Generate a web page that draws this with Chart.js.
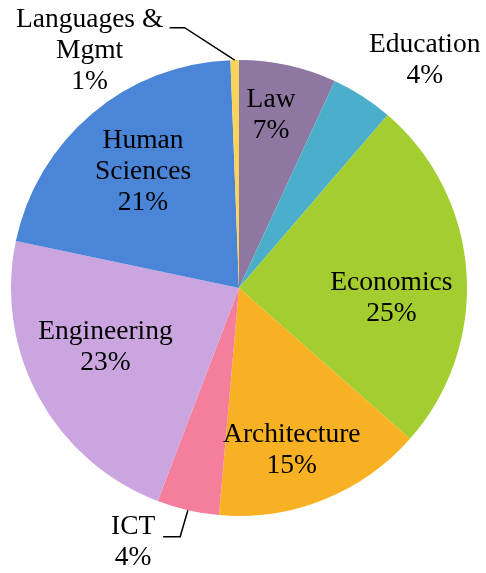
<!DOCTYPE html>
<html>
<head>
<meta charset="utf-8">
<script src="https://cdn.jsdelivr.net/npm/chart.js@4"></script>
<style>
html,body{margin:0;padding:0;background:#fff;}
#wrap{width:486px;height:573px;position:relative;}
</style>
</head>
<body>
<div id="wrap"><canvas id="c" width="486" height="573"></canvas></div>
<script>
// ---- data ----
const categories = ['Law', 'Education', 'Economics', 'Architecture', 'ICT', 'Engineering', 'Human Sciences', 'Languages & Mgmt'];
const labelLines = [['Law'], ['Education'], ['Economics'], ['Architecture'], ['ICT'], ['Engineering'], ['Human', 'Sciences'], ['Languages &', 'Mgmt']];
const shares = [6.9, 4.4, 25.2, 14.9, 4.4, 22.5, 21.1, 0.6];

// ---- styles ----
const colors = ['#8E77A0', '#4BAFCC', '#A4CE30', '#F8B122', '#F47E9B', '#CAA5E0', '#4A85D8', '#F8D55A'];
// label placement: radial factor (of radius) and angle offset (deg) from slice middle
const labelRadius = [0.77, 1.29, 0.67, 0.75, 1.21, 0.64, 0.66, 1.23];
const labelAngleOffset = [-1.9, 6.4, 7.8, 3.8, 9.6, 4.8, 0.5, -31.1];
// leader lines: [elbow offset, end offset] relative to label centre, null = none
const leaders = [null, null, null, null, [[47, -6], [30, -6]], null, null, [[95, -23], [80, -23]]];

const FONT = '27.5px "Liberation Serif"';
const LINE_H = 31;

const labelPlugin = {
  id: 'sliceLabels',
  afterDatasetsDraw(chart) {
    const ctx = chart.ctx;
    const meta = chart.getDatasetMeta(0);
    const data = chart.data.datasets[0].data;
    const total = data.reduce((a, b) => a + b, 0);
    ctx.save();
    ctx.font = FONT;
    ctx.fillStyle = '#000';
    ctx.textAlign = 'center';
    ctx.textBaseline = 'middle';
    meta.data.forEach((arc, i) => {
      const p = arc.getProps(['x', 'y', 'startAngle', 'endAngle', 'outerRadius'], true);
      const mid = (p.startAngle + p.endAngle) / 2;
      const a = mid + labelAngleOffset[i] * Math.PI / 180;
      const r = p.outerRadius * labelRadius[i];
      const cx = p.x + Math.cos(a) * r;
      const cy = p.y + Math.sin(a) * r;
      const lines = labelLines[i].concat([Math.round(data[i] / total * 100) + '%']);
      const top = cy - (lines.length - 1) * LINE_H / 2;
      lines.forEach((t, k) => ctx.fillText(t, cx, top + k * LINE_H));
      const ld = leaders[i];
      if (ld) {
        const sx = p.x + Math.cos(mid) * p.outerRadius;
        const sy = p.y + Math.sin(mid) * p.outerRadius;
        ctx.beginPath();
        ctx.strokeStyle = '#000';
        ctx.lineWidth = 1.5;
        ctx.moveTo(sx, sy);
        ctx.lineTo(cx + ld[0][0], cy + ld[0][1]);
        ctx.lineTo(cx + ld[1][0], cy + ld[1][1]);
        ctx.stroke();
      }
    });
    ctx.restore();
  }
};

new Chart(document.getElementById('c'), {
  type: 'pie',
  data: {
    labels: categories,
    datasets: [{
      data: shares,
      backgroundColor: colors,
      borderWidth: 0
    }]
  },
  options: {
    responsive: false,
    animation: false,
    layout: { padding: { left: 11, right: 19, top: 60, bottom: 57 } },
    plugins: { legend: { display: false }, tooltip: { enabled: false } }
  },
  plugins: [labelPlugin]
});
</script>
</body>
</html>
